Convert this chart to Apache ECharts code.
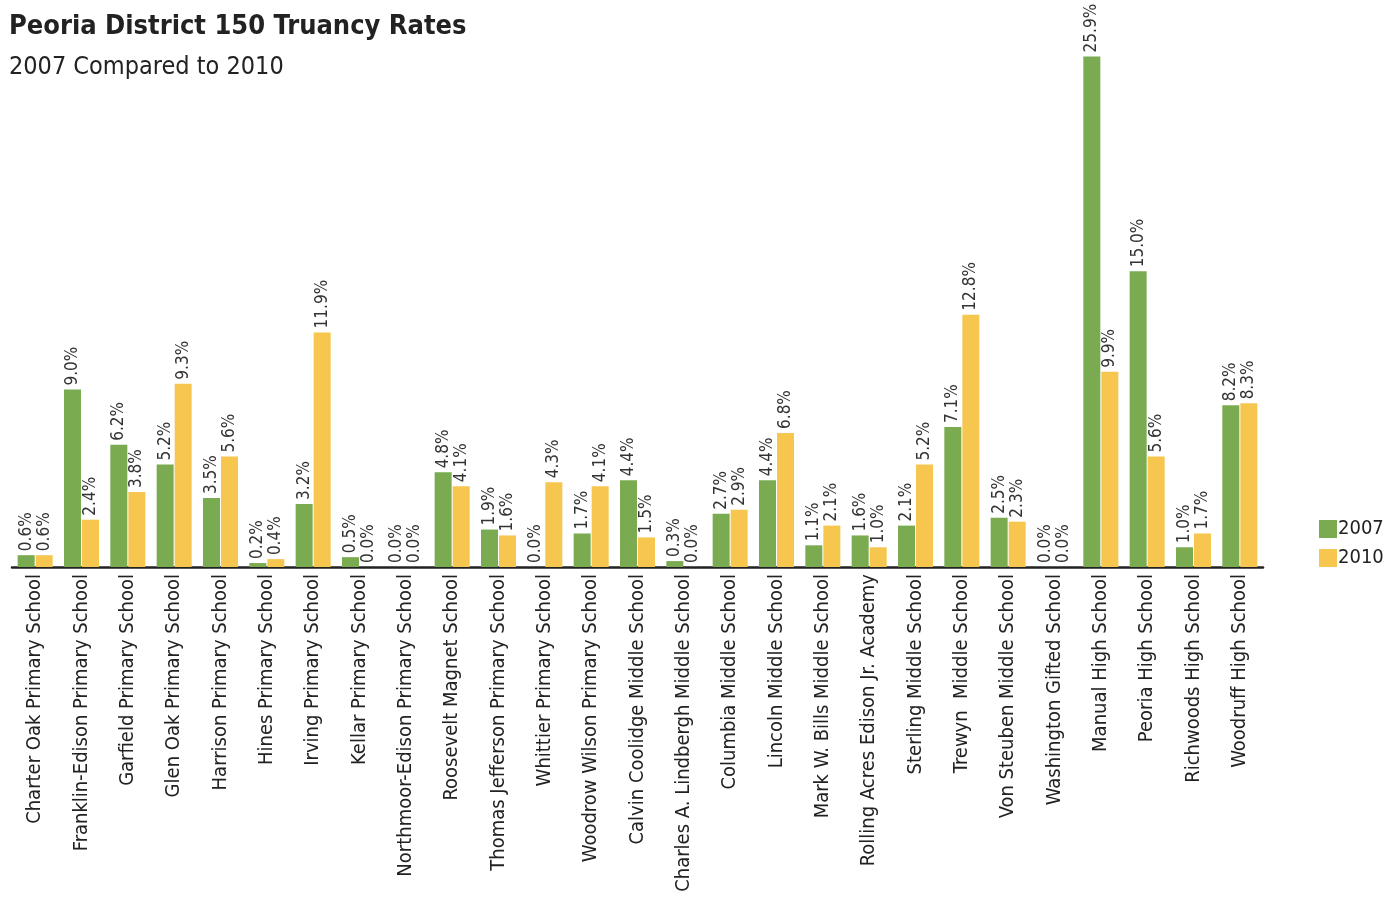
<!DOCTYPE html>
<html>
<head>
<meta charset="utf-8">
<title>Peoria District 150 Truancy Rates</title>
<script src="https://cdn.jsdelivr.net/npm/echarts@6/dist/echarts.min.js"></script>
<style>
  html, body { margin: 0; padding: 0; background: #fff; }
  #chart { width: 1389px; height: 898px; }
</style>
</head>
<body>
<div id="chart"></div>
<script>
// school names along the x axis
const schools = [
  'Charter Oak Primary School',
  'Franklin-Edison Primary School',
  'Garfield Primary School',
  'Glen Oak Primary School',
  'Harrison Primary School',
  'Hines Primary School',
  'Irving Primary School',
  'Kellar Primary School',
  'Northmoor-Edison Primary School',
  'Roosevelt Magnet School',
  'Thomas Jefferson Primary School',
  'Whittier Primary School',
  'Woodrow Wilson Primary School',
  'Calvin Coolidge Middle School',
  'Charles A. Lindbergh Middle School',
  'Columbia Middle School',
  'Lincoln Middle School',
  'Mark W. Bills Middle School',
  'Rolling Acres Edison Jr. Academy',
  'Sterling Middle School',
  'Trewyn  Middle School',
  'Von Steuben Middle School',
  'Washington Gifted School',
  'Manual High School',
  'Peoria High School',
  'Richwoods High School',
  'Woodruff High School',
];

// truancy rate, percent
const rates2007 = [0.6, 9.0, 6.2, 5.2, 3.5, 0.2, 3.2, 0.5, 0.0, 4.8, 1.9, 0.0, 1.7, 4.4, 0.3, 2.7, 4.4, 1.1, 1.6, 2.1, 7.1, 2.5, 0.0, 25.9, 15.0, 1.0, 8.2];
const rates2010 = [0.6, 2.4, 3.8, 9.3, 5.6, 0.4, 11.9, 0.0, 0.0, 4.1, 1.6, 4.3, 4.1, 1.5, 0.0, 2.9, 6.8, 2.1, 1.0, 5.2, 12.8, 2.3, 0.0, 9.9, 5.6, 1.7, 8.3];

const years = ['2007', '2010'];

const FONT = "'DejaVu Sans Condensed', 'Roboto', sans-serif";
const GREEN = '#7aab50';
const YELLOW = '#f6c64f';

const barLabel = {
  show: true,
  position: 'top',
  rotate: 90,
  align: 'left',
  verticalAlign: 'middle',
  distance: 4,
  fontFamily: FONT,
  fontSize: 17,
  color: '#333',
  formatter: (p) => p.value.toFixed(1) + '%',
};

const chart = echarts.init(document.getElementById('chart'));

chart.setOption({
  animation: false,
  title: [
    {
      text: 'Peoria District 150 Truancy Rates',
      left: 4,
      top: 8,
      textStyle: { fontFamily: FONT, fontSize: 27, fontWeight: 'bold', color: '#222' },
    },
    {
      text: '2007 Compared to 2010',
      left: 4,
      top: 50,
      textStyle: { fontFamily: FONT, fontSize: 25, fontWeight: 'normal', color: '#222' },
    },
  ],
  legend: {
    orient: 'vertical',
    left: 1314,
    top: 514,
    itemWidth: 18,
    itemHeight: 18,
    itemGap: 9,
    icon: 'rect',
    data: years,
    textStyle: { fontFamily: FONT, fontSize: 20, color: '#222', padding: [0, 0, 0, -4] },
  },
  grid: {
    left: 12,
    right: 126,
    top: 15,
    bottom: 331,
    outerBoundsMode: 'none',
  },
  xAxis: {
    type: 'category',
    data: schools,
    axisTick: { show: false },
    axisLine: { lineStyle: { color: '#222', width: 2.5 } },
    axisLabel: {
      interval: 0,
      rotate: 90,
      margin: 7,
      fontFamily: FONT,
      fontSize: 20,
      color: '#222',
    },
  },
  yAxis: {
    type: 'value',
    min: 0,
    max: 28,
    show: false,
    splitLine: { show: false },
  },
  series: [
    {
      name: years[0],
      type: 'bar',
      data: rates2007,
      barWidth: 17,
      barGap: '6%',
      itemStyle: { color: GREEN },
      label: barLabel,
    },
    {
      name: years[1],
      type: 'bar',
      data: rates2010,
      barWidth: 17,
      itemStyle: { color: YELLOW },
      label: barLabel,
    },
  ],
});
</script>
</body>
</html>
